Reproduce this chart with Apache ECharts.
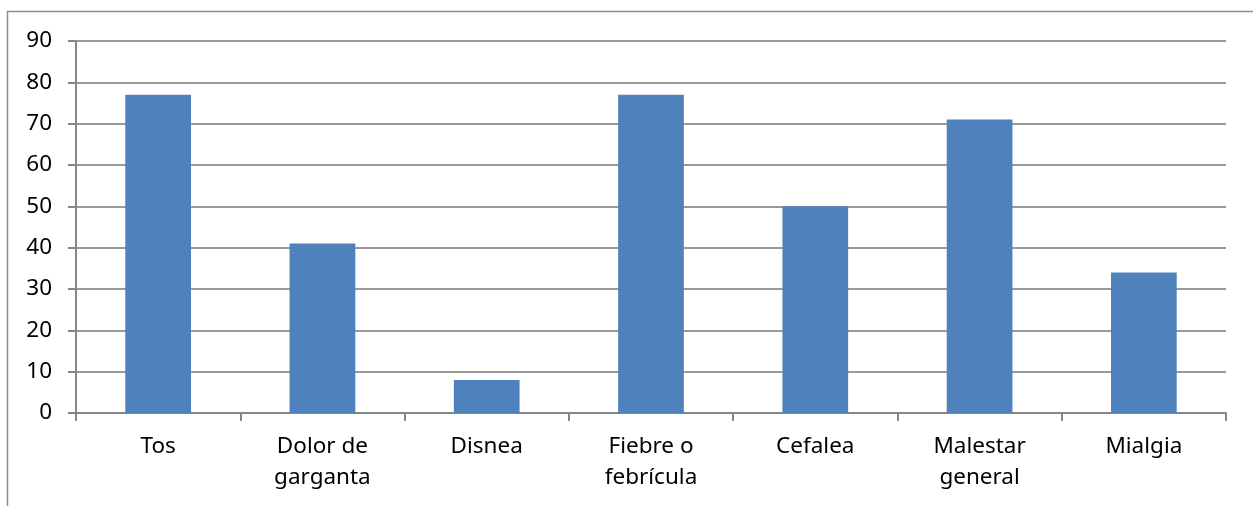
<!DOCTYPE html>
<html><head><meta charset="utf-8">
<script src="https://cdn.jsdelivr.net/npm/echarts@6/dist/echarts.min.js"></script>
<style>html,body{margin:0;padding:0;background:#fff}#c{width:1253px;height:506px}</style>
</head><body><div id="c"></div>
<script>
const categories = ['Tos', 'Dolor de\ngarganta', 'Disnea', 'Fiebre o\nfebrícula', 'Cefalea', 'Malestar\ngeneral', 'Mialgia'];
const values = [77, 41, 8, 77, 50, 71, 34];
const yTicks = { min: 0, max: 90, interval: 10 };

const chart = echarts.init(document.getElementById('c'), null, { renderer: 'canvas' });
const font = 'Noto Sans';
chart.setOption({
  animation: false,
  backgroundColor: '#fff',
  graphic: [{
    type: 'polyline', z: -10,
    shape: { points: [[7.5, 520], [7.5, 11.5], [1300, 11.5]] },
    style: { fill: 'none', stroke: '#8c8c8c', lineWidth: 1.5 }
  }],
  grid: { left: 76, top: 41, right: 27, bottom: 93, containLabel: false },
  xAxis: {
    type: 'category', data: categories,
    axisLine: { lineStyle: { color: '#868686', width: 2 } },
    axisTick: { show: true, length: 8, lineStyle: { color: '#868686', width: 2 } },
    axisLabel: { color: '#000', fontFamily: font, fontSize: 22.5, lineHeight: 31, margin: 18, interval: 0 },
    splitLine: { show: false }
  },
  yAxis: {
    type: 'value', min: yTicks.min, max: yTicks.max, interval: yTicks.interval,
    axisLine: { show: true, lineStyle: { color: '#868686', width: 2 } },
    axisTick: { show: true, length: 8, lineStyle: { color: '#868686', width: 2 } },
    axisLabel: { color: '#000', fontFamily: font, fontSize: 22.5, margin: 24 },
    splitLine: { show: true, lineStyle: { color: '#9a9a9a', width: 2 } }
  },
  series: [{
    type: 'bar', data: values, barWidth: '40%',
    itemStyle: { color: '#4F81BD' }
  }]
});
</script></body></html>
